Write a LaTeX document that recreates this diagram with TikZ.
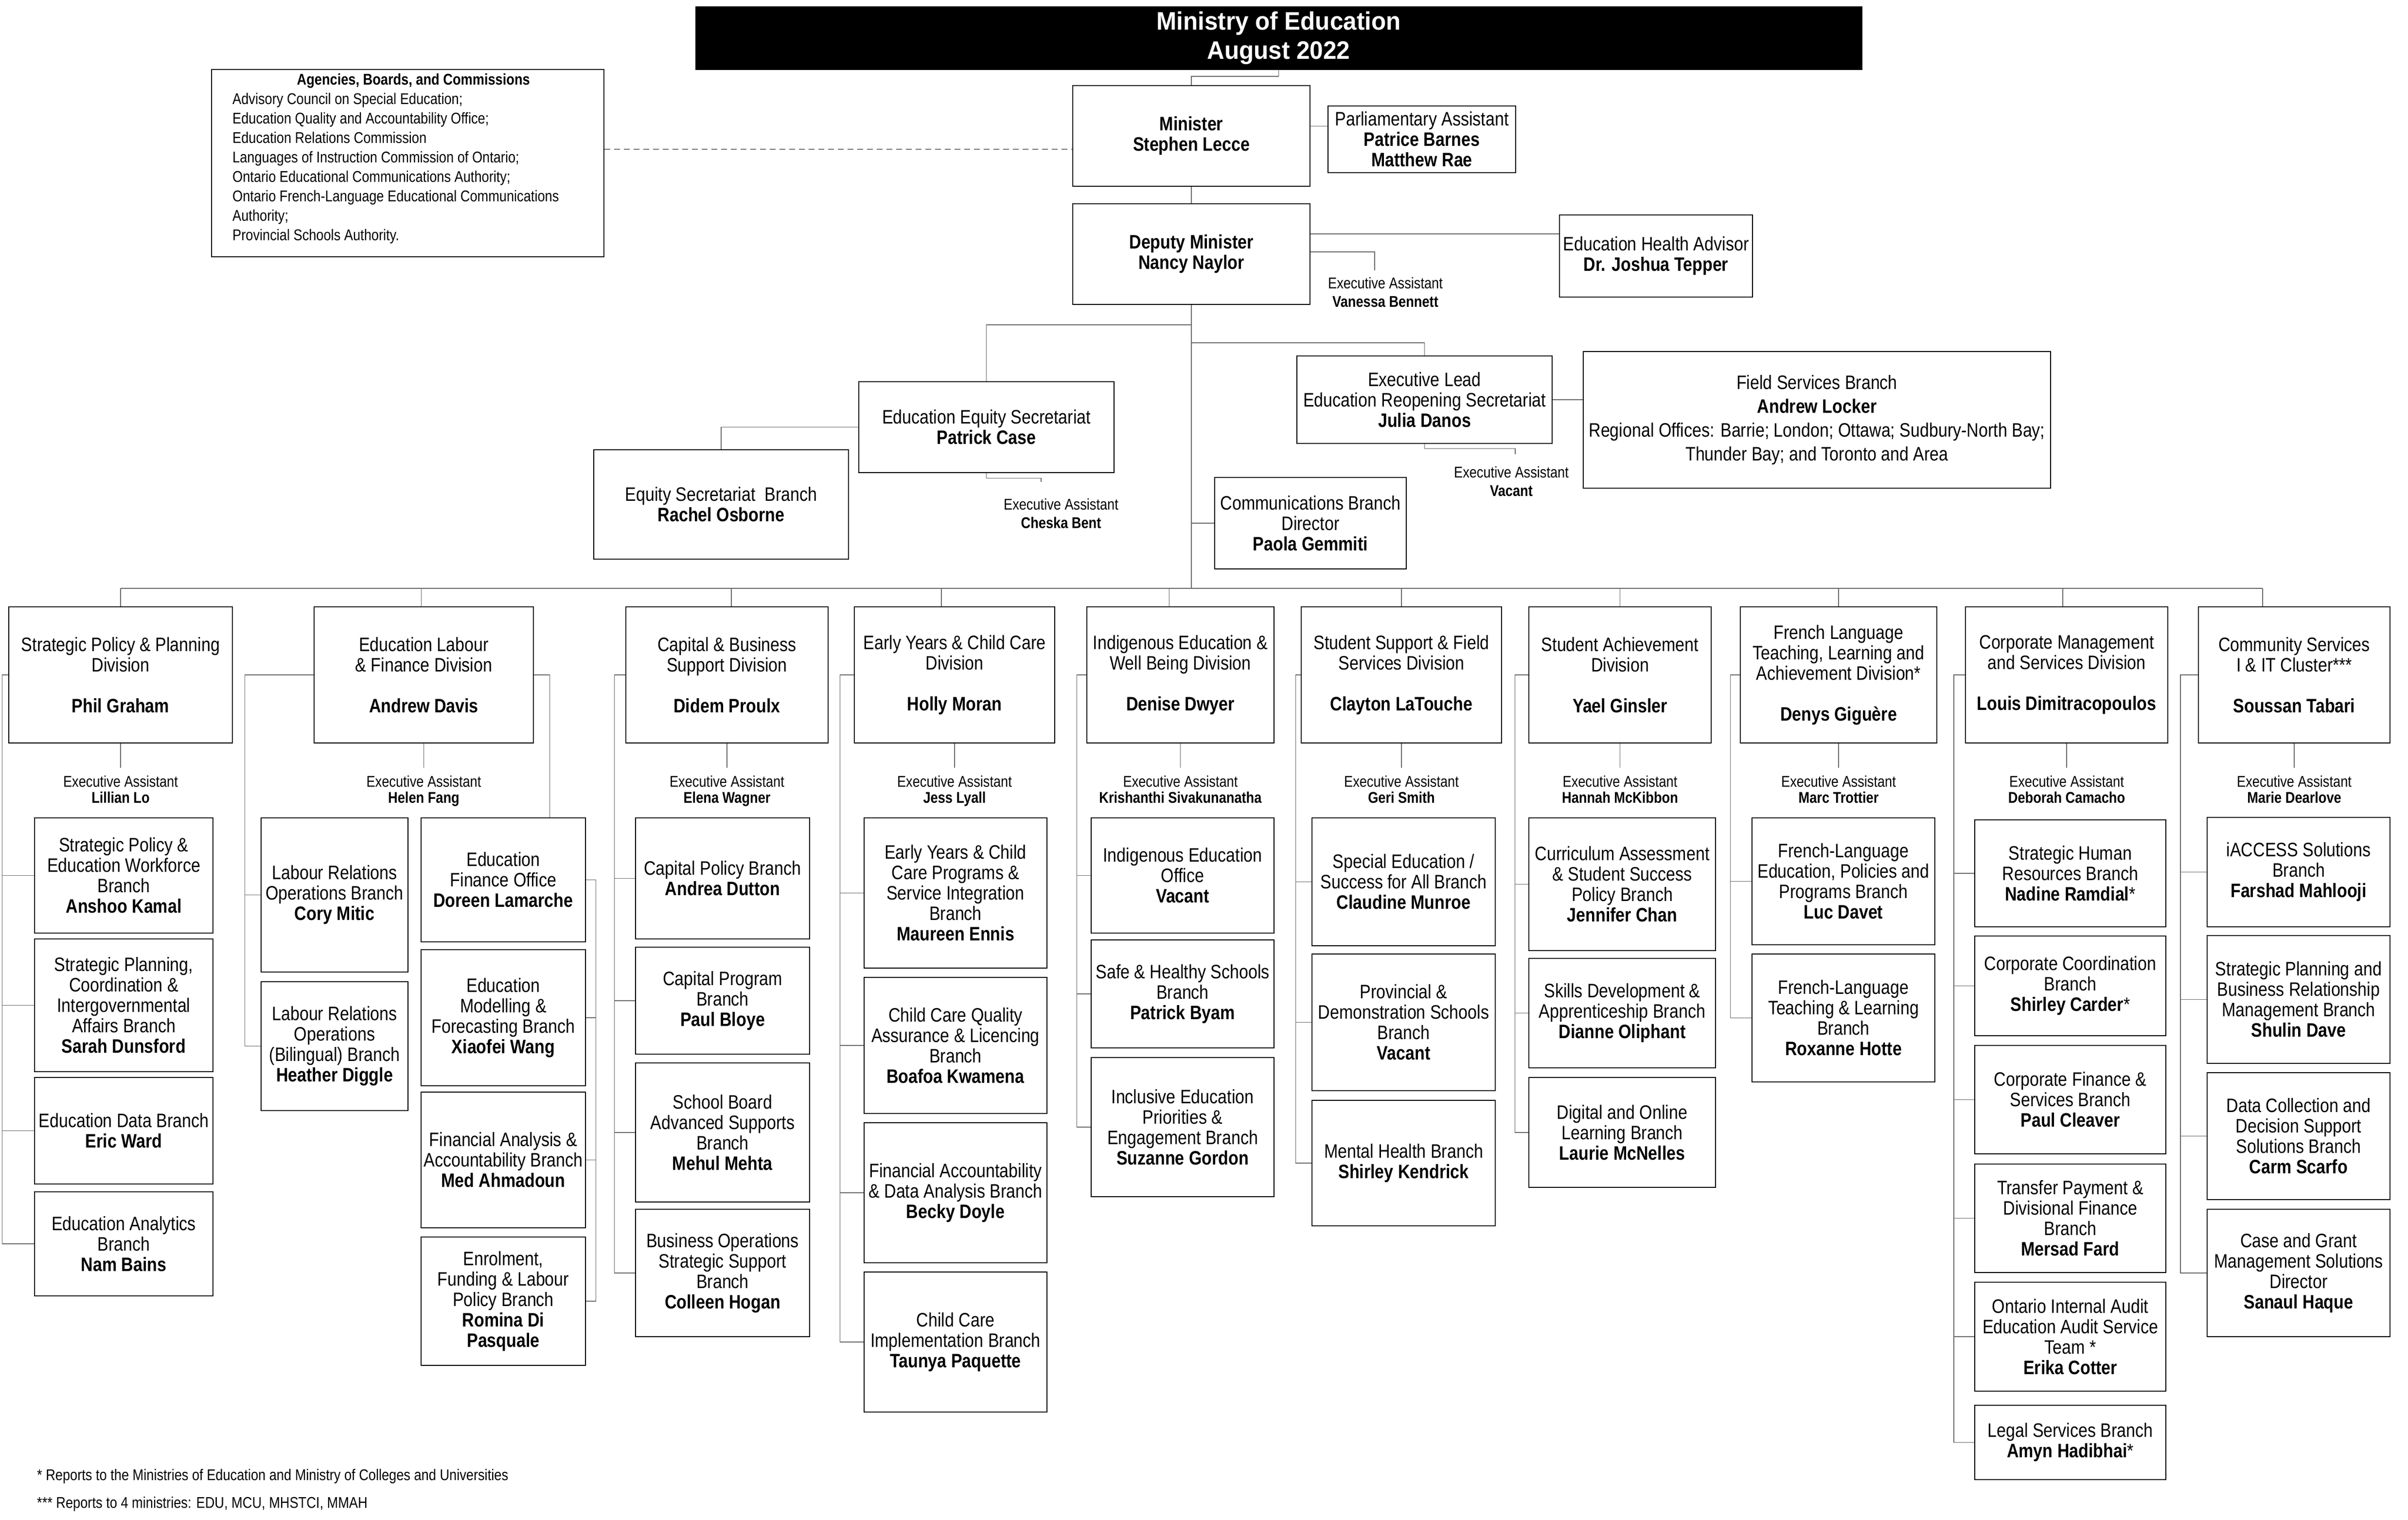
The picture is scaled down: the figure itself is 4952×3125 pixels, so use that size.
\documentclass[tikz,border=0pt]{standalone}
\usepackage{fontspec}
\setmainfont[FakeStretch=0.85]{Liberation Sans}
\newfontfamily\titlefont[FakeStretch=0.95]{Liberation Sans}
\usetikzlibrary{calc}
\tikzset{
  box/.style={draw=black, line width=2.6pt, inner sep=0pt, align=center, font={\fontsize{40}{42}\selectfont}},
  conn/.style={draw=black!60, line width=1.5pt},
  dashconn/.style={draw=black!55, line width=2pt, dash pattern=on 12pt off 8pt},
  ea/.style={inner sep=0pt, align=center, font={\fontsize{32}{33}\selectfont}},
  eatop/.style={inner sep=0pt, align=center, font={\fontsize{32}{38}\selectfont}},
  foot/.style={inner sep=0pt, anchor=west, font={\fontsize{32}{36}\selectfont}},
}
\newcommand{\obox}[7][]{\node[box,minimum width={(#5-#3)*1pt},minimum height={(#6-#4)*1pt},#1] (#2) at ({(#3+#5)/2},{(#4+#6)/2}) {#7};}
\begin{document}
\begin{tikzpicture}[x=1pt,y=-1pt]
\fill[white] (0,0) rectangle (4952,3125);
\useasboundingbox (0,0) rectangle (4952,3125);

% ---------- top ----------
\node[draw=black, fill=black, text=white, minimum width=2399pt, minimum height=130pt, inner sep=0pt, align=center,
  font={\titlefont\bfseries\fontsize{52}{60}\selectfont}] (title) at (2629.5,78) {Ministry of Education\\August 2022};

\obox{abc}{435}{143}{1242}{528}{}
\node[anchor=north west, inner sep=0pt, align=left, font={\fontsize{32}{40}\selectfont}] (abct) at (478,151)
 {\makebox[744pt][c]{\bfseries Agencies, Boards, and Commissions}\\
  Advisory Council on Special Education;\\
  Education Quality and Accountability Office;\\
  Education Relations Commission\\
  Languages of Instruction Commission of Ontario;\\
  Ontario Educational Communications Authority;\\
  Ontario French-Language Educational Communications\\
  Authority;\\
  Provincial Schools Authority.};

\obox{min}{2206}{176}{2694}{383}{\textbf{Minister}\\\textbf{Stephen Lecce}}
\obox{dep}{2206}{419}{2694}{626}{\textbf{Deputy Minister}\\\textbf{Nancy Naylor}}
\obox{pa}{2731}{218}{3117}{355}{Parliamentary Assistant\\\textbf{Patrice Barnes}\\\textbf{Matthew Rae}}
\obox{eha}{3207}{442}{3604}{611}{Education Health Advisor\\\textbf{Dr. Joshua Tepper}}
\obox{ees}{1766}{785}{2291}{972}{Education Equity Secretariat\\\textbf{Patrick Case}}
\obox{esb}{1221}{925}{1745}{1150}{Equity Secretariat\ \ Branch\\\textbf{Rachel Osborne}}
\obox{el}{2667}{732}{3192}{912}{Executive Lead\\Education Reopening Secretariat\\\textbf{Julia Danos}}
\obox[font={\fontsize{40}{49}\selectfont}]{fs}{3256}{723}{4217}{1004}{Field Services Branch\\\textbf{Andrew Locker}\\Regional Offices: Barrie; London; Ottawa; Sudbury-North Bay;\\Thunder Bay; and Toronto and Area}
\obox{comm}{2498}{982}{2892}{1170}{Communications Branch\\Director\\\textbf{Paola Gemmiti}}

\node[eatop] (eaV) at (2849,601) {Executive Assistant\\\textbf{Vanessa Bennett}};
\node[eatop] (eaC) at (2182,1056) {Executive Assistant\\\textbf{Cheska Bent}};
\node[eatop] (eaE) at (3108,990) {Executive Assistant\\\textbf{Vacant}};

\coordinate (t1) at (2450,668);
\coordinate (t2) at (2450,705);
\coordinate (t3) at (2450,1076);
\coordinate (bus) at (2450,1210);

\draw[conn] (title.south) -- ++(0,14) -| (min.north);
\draw[conn] (min.south) -- (dep.north);
\draw[conn] ([yshift=20pt]min.east) -- ([yshift=20pt]min.east -| pa.west);
\draw[conn] ([yshift=41.5pt]dep.east) -- ([yshift=41.5pt]dep.east -| eha.west);
\draw[conn] ([yshift=4.5pt]dep.east) -| ([xshift=-22pt,yshift=14pt]eaV.north);
\draw[conn] (dep.south) -- (bus);
\draw[conn] (t1) -| (ees.north);
\draw[conn] (t2) -| (el.north);
\draw[conn] (t3) -- (comm.west);
\draw[conn] (ees.west) -| (esb.north);
\draw[conn] (ees.south) -- ++(0,10) -| ([xshift=-41pt,yshift=34pt]eaC.north);
\draw[conn] (el.east) -- (el.east -| fs.west);
\draw[conn] (el.south) -- ++(0,9) -| ([xshift=8pt,yshift=25pt]eaE.north);
\draw[dashconn] ([yshift=28.5pt]abc.east) -- ([yshift=28.5pt]abc.east -| min.west);

% ---------- divisions ----------
\obox{d1}{18}{1248}{478}{1528}{Strategic Policy \& Planning\\Division\\[42pt]\textbf{Phil Graham}}
\obox{d2}{646}{1248}{1097}{1528}{Education Labour\\\& Finance Division\\[42pt]\textbf{Andrew Davis}}
\obox{d3}{1287}{1248}{1703}{1528}{Capital \& Business\\Support Division\\[42pt]\textbf{Didem Proulx}}
\obox{d4}{1757}{1248}{2169}{1528}{Early Years \& Child Care\\Division\\[42pt]\textbf{Holly Moran}}
\obox{d5}{2235}{1248}{2620}{1528}{Indigenous Education \&\\Well Being Division\\[42pt]\textbf{Denise Dwyer}}
\obox{d6}{2676}{1248}{3088}{1528}{Student Support \& Field\\Services Division\\[42pt]\textbf{Clayton LaTouche}}
\obox{d7}{3144}{1248}{3519}{1528}{Student Achievement\\Division\\[42pt]\textbf{Yael Ginsler}}
\obox{d8}{3579}{1248}{3983}{1528}{French Language\\Teaching, Learning and\\Achievement Division*\\[42pt]\textbf{Denys Giguère}}
\obox{d9}{4042}{1248}{4458}{1528}{Corporate Management\\and Services Division\\[42pt]\textbf{Louis Dimitracopoulos}}
\obox{d10}{4521}{1248}{4915}{1528}{Community Services\\I \& IT Cluster***\\[42pt]\textbf{Soussan Tabari}}

\draw[conn] (d1.north |- bus) -- ([xshift=-65pt]d10.north |- bus);
\foreach \d/\s in {d1/0,d2/-5,d3/9,d4/-27,d5/-23,d6/0,d7/0,d8/0,d9/-8,d10/-65}
  \draw[conn] ([xshift=\s pt]\d.north) -- ([xshift=\s pt]\d.north |- bus);

\foreach \d/\n in {d1/Lillian Lo,d2/Helen Fang,d3/Elena Wagner,d4/Jess Lyall,d5/Krishanthi Sivakunanatha,d6/Geri Smith,d7/Hannah McKibbon,d8/Marc Trottier,d9/Deborah Camacho,d10/Marie Dearlove}{
  \node[ea,anchor=north] (ea\d) at ([yshift=-66pt]\d.south) {Executive Assistant\\\textbf{\n}};
  \draw[conn] (\d.south) -- ([yshift=16pt]ea\d.north);
}

% ---------- branches ----------
\obox{b1a}{71}{1682}{438}{1919}{Strategic Policy \&\\Education Workforce\\Branch\\\textbf{Anshoo Kamal}}
\obox{b1b}{71}{1931}{438}{2204}{Strategic Planning,\\Coordination \&\\Intergovernmental\\Affairs Branch\\\textbf{Sarah Dunsford}}
\obox{b1c}{71}{2216}{438}{2435}{Education Data Branch\\\textbf{Eric Ward}}
\obox{b1d}{71}{2451}{438}{2665}{Education Analytics\\Branch\\\textbf{Nam Bains}}

\obox{b2a}{537}{1682}{839}{1999}{Labour Relations\\Operations Branch\\\textbf{Cory Mitic}}
\obox{b2b}{537}{2019}{839}{2284}{Labour Relations\\Operations\\(Bilingual) Branch\\\textbf{Heather Diggle}}
\obox{b2c}{866}{1682}{1204}{1937}{Education\\Finance Office\\\textbf{Doreen Lamarche}}
\obox{b2d}{866}{1953}{1204}{2233}{Education\\Modelling \&\\Forecasting Branch\\\textbf{Xiaofei Wang}}
\obox{b2e}{866}{2246}{1204}{2525}{Financial Analysis \&\\Accountability Branch\\\textbf{Med Ahmadoun}}
\obox{b2f}{866}{2544}{1204}{2808}{Enrolment,\\Funding \& Labour\\Policy Branch\\\textbf{Romina Di}\\\textbf{Pasquale}}

\obox{b3a}{1307}{1682}{1665}{1931}{Capital Policy Branch\\\textbf{Andrea Dutton}}
\obox{b3b}{1307}{1948}{1665}{2168}{Capital Program\\Branch\\\textbf{Paul Bloye}}
\obox{b3c}{1307}{2186}{1665}{2472}{School Board\\Advanced Supports\\Branch\\\textbf{Mehul Mehta}}
\obox{b3d}{1307}{2487}{1665}{2749}{Business Operations\\Strategic Support\\Branch\\\textbf{Colleen Hogan}}

\obox{b4a}{1777}{1682}{2153}{1991}{Early Years \& Child\\Care Programs \&\\Service Integration\\Branch\\\textbf{Maureen Ennis}}
\obox{b4b}{1777}{2010}{2153}{2290}{Child Care Quality\\Assurance \& Licencing\\Branch\\\textbf{Boafoa Kwamena}}
\obox{b4c}{1777}{2309}{2153}{2597}{Financial Accountability\\\& Data Analysis Branch\\\textbf{Becky Doyle}}
\obox{b4d}{1777}{2616}{2153}{2904}{Child Care\\Implementation Branch\\\textbf{Taunya Paquette}}

\obox{b5a}{2244}{1682}{2620}{1919}{Indigenous Education\\Office\\\textbf{Vacant}}
\obox{b5b}{2244}{1933}{2620}{2155}{Safe \& Healthy Schools\\Branch\\\textbf{Patrick Byam}}
\obox{b5c}{2244}{2175}{2620}{2461}{Inclusive Education\\Priorities \&\\Engagement Branch\\\textbf{Suzanne Gordon}}

\obox{b6a}{2698}{1682}{3075}{1945}{Special Education /\\Success for All Branch\\\textbf{Claudine Munroe}}
\obox{b6b}{2698}{1962}{3075}{2243}{Provincial \&\\Demonstration Schools\\Branch\\\textbf{Vacant}}
\obox{b6c}{2698}{2263}{3075}{2521}{Mental Health Branch\\\textbf{Shirley Kendrick}}

\obox{b7a}{3144}{1682}{3528}{1955}{Curriculum Assessment\\\& Student Success\\Policy Branch\\\textbf{Jennifer Chan}}
\obox{b7b}{3144}{1971}{3528}{2196}{Skills Development \&\\Apprenticeship Branch\\\textbf{Dianne Oliphant}}
\obox{b7c}{3144}{2216}{3528}{2442}{Digital and Online\\Learning Branch\\\textbf{Laurie McNelles}}

\obox{b8a}{3603}{1682}{3979}{1943}{French-Language\\Education, Policies and\\Programs Branch\\\textbf{Luc Davet}}
\obox{b8b}{3603}{1962}{3979}{2225}{French-Language\\Teaching \& Learning\\Branch\\\textbf{Roxanne Hotte}}

\obox{b9a}{4061}{1686}{4454}{1906}{Strategic Human\\Resources Branch\\\textbf{Nadine Ramdial}*}
\obox{b9b}{4061}{1925}{4454}{2130}{Corporate Coordination\\Branch\\\textbf{Shirley Carder}*}
\obox{b9c}{4061}{2150}{4454}{2373}{Corporate Finance \&\\Services Branch\\\textbf{Paul Cleaver}}
\obox{b9d}{4061}{2394}{4454}{2617}{Transfer Payment \&\\Divisional Finance\\Branch\\\textbf{Mersad Fard}}
\obox{b9e}{4061}{2637}{4454}{2861}{Ontario Internal Audit\\Education Audit Service\\Team *\\\textbf{Erika Cotter}}
\obox{b9f}{4061}{2890}{4454}{3043}{Legal Services Branch\\\textbf{Amyn Hadibhai}*}

\obox{b10a}{4539}{1681}{4915}{1906}{iACCESS Solutions\\Branch\\\textbf{Farshad Mahlooji}}
\obox{b10b}{4539}{1924}{4915}{2187}{Strategic Planning and\\Business Relationship\\Management Branch\\\textbf{Shulin Dave}}
\obox{b10c}{4539}{2206}{4915}{2467}{Data Collection and\\Decision Support\\Solutions Branch\\\textbf{Carm Scarfo}}
\obox{b10d}{4539}{2487}{4915}{2749}{Case and Grant\\Management Solutions\\Director\\\textbf{Sanaul Haque}}

% spines
\foreach \b in {b1a,b1b,b1c,b1d} \draw[conn] (d1.west) -- ++(-12,0) |- (\b.west);
\foreach \b in {b2a,b2b} \draw[conn] (d2.west) -- ++(-141,0) |- (\b.west);
\draw[conn] (d2.east) -| ([xshift=-75pt]b2c.north east);
\draw[conn] (b2c.east) -- ++(20,0) |- (b2f.east);
\foreach \b in {b2d,b2e} \draw[conn] (\b.east) -- ++(20,0);
\foreach \b in {b3a,b3b,b3c,b3d} \draw[conn] (d3.west) -- ++(-22,0) |- (\b.west);
\foreach \b in {b4a,b4b,b4c,b4d} \draw[conn] (d4.west) -- ++(-28,0) |- (\b.west);
\foreach \b in {b5a,b5b,b5c} \draw[conn] (d5.west) -- ++(-19,0) |- (\b.west);
\foreach \b in {b6a,b6b,b6c} \draw[conn] (d6.west) -- ++(-10,0) |- (\b.west);
\foreach \b in {b7a,b7b,b7c} \draw[conn] (d7.west) -- ++(-27,0) |- (\b.west);
\foreach \b in {b8a,b8b} \draw[conn] (d8.west) -- ++(-19,0) |- (\b.west);
\foreach \b in {b9a,b9b,b9c,b9d,b9e,b9f} \draw[conn] (d9.west) -- ++(-23,0) |- (\b.west);
\foreach \b in {b10a,b10b,b10c,b10d} \draw[conn] (d10.west) -- ++(-36,0) |- (\b.west);

% footnotes
\node[foot] (fn1) at (76,3036) {* Reports to the Ministries of Education and Ministry of Colleges and Universities};
\node[foot] (fn2) at (76,3093) {*** Reports to 4 ministries: EDU, MCU, MHSTCI, MMAH};
\end{tikzpicture}
\end{document}
